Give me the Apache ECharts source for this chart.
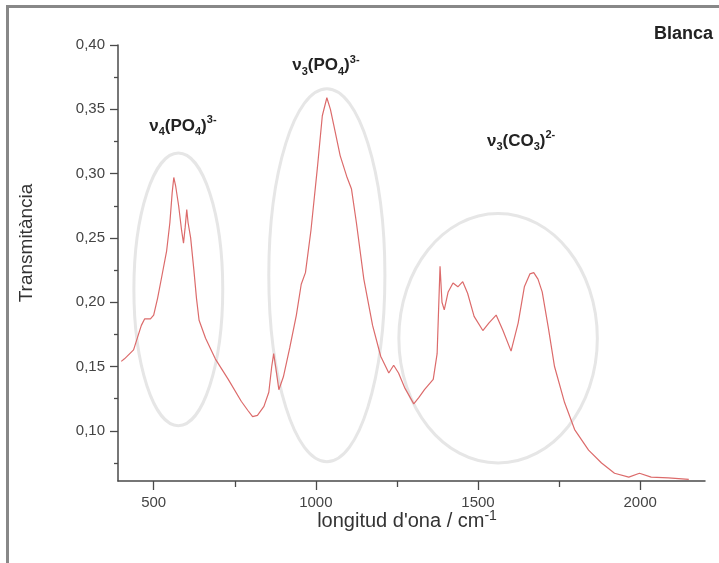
<!DOCTYPE html>
<html>
<head>
<meta charset="utf-8">
<script src="https://cdn.jsdelivr.net/npm/echarts@6/dist/echarts.min.js"></script>
<style>
  html, body { margin: 0; padding: 0; background: #fff; }
  #chart { width: 719px; height: 563px; }
</style>
</head>
<body>
<div id="chart"></div>
<script>
// FTIR spectrum of the "Blanca" sample: wavenumber (cm-1) vs transmittance
const wavenumber = [
  400, 410, 438, 462, 472, 490, 500, 512, 525, 540, 550, 557, 562, 568, 577, 586, 592, 597, 602, 606,
  614, 624, 632, 640, 660, 690, 730, 770, 790, 805, 820, 840, 855, 864, 870, 876, 886, 900, 920, 940,
  955, 968, 985, 1005, 1020, 1034, 1045, 1055, 1075, 1095, 1110, 1125, 1148, 1175, 1200, 1225, 1240, 1255, 1275, 1302,
  1318, 1335, 1362, 1374, 1383, 1389, 1396, 1408, 1423, 1438, 1453, 1468, 1488, 1515, 1534, 1556, 1577, 1602, 1624, 1643,
  1660, 1672, 1685, 1698, 1717, 1736, 1767, 1798, 1841, 1881, 1921, 1965, 1998, 2034, 2087, 2150
];
const transmittance = [
  0.154, 0.156, 0.163, 0.182, 0.187, 0.187, 0.190, 0.203, 0.220, 0.240, 0.262, 0.285, 0.297, 0.290, 0.275, 0.256, 0.246, 0.258, 0.272, 0.262,
  0.250, 0.225, 0.203, 0.186, 0.172, 0.156, 0.140, 0.123, 0.116, 0.111, 0.112, 0.119, 0.130, 0.150, 0.160, 0.150, 0.132, 0.142, 0.165, 0.190,
  0.214, 0.223, 0.256, 0.305, 0.345, 0.359, 0.350, 0.338, 0.314, 0.298, 0.288, 0.262, 0.218, 0.182, 0.158, 0.145, 0.151, 0.145, 0.133, 0.121,
  0.126, 0.132, 0.140, 0.160, 0.228, 0.200, 0.194, 0.208, 0.215, 0.212, 0.216, 0.207, 0.189, 0.178, 0.184, 0.190, 0.178, 0.162, 0.184, 0.212,
  0.222, 0.223, 0.218, 0.208, 0.180, 0.150, 0.122, 0.101, 0.085, 0.075, 0.067, 0.064, 0.067, 0.064, 0.0635, 0.0622
];

const xMajorTicks = [500, 1000, 1500, 2000];
const xMinorTicks = [750, 1250, 1750];
const yMajorTicks = [0.10, 0.15, 0.20, 0.25, 0.30, 0.35, 0.40];
const yMinorTicks = [0.075, 0.125, 0.175, 0.225, 0.275, 0.325, 0.375];

// Vibrational band names (rich-text markup: sub = subscript, sup = superscript)
const bandNames = [
  '{b|ν}{sub|4}{b|(PO}{sub|4}{b|)}{sup|3-}',
  '{b|ν}{sub|3}{b|(PO}{sub|4}{b|)}{sup|3-}',
  '{b|ν}{sub|3}{b|(CO}{sub|3}{b|)}{sup|2-}'
];
const sampleName = 'Blanca';
const xTitle = "{t|longitud d'ona / cm}{s|-1}";
const yTitle = 'Transmitància';

const FONT = '"Liberation Sans", Arial, sans-serif';
const X_MIN = 390, X_MAX = 2200, Y_MIN = 0.061, Y_MAX = 0.40;

const chart = echarts.init(document.getElementById('chart'), null, { renderer: 'canvas' });

const axisColor = '#4a4a4a';
function xAxisCfg(ticks, len, showLine, showLabel) {
  return {
    type: 'value', position: 'bottom', min: X_MIN, max: X_MAX,
    splitLine: { show: false },
    axisLine: { show: showLine, onZero: false, lineStyle: { color: axisColor, width: 1.5 } },
    axisTick: { show: true, customValues: ticks, length: len, lineStyle: { color: axisColor, width: 1.3 } },
    axisLabel: {
      show: showLabel, customValues: ticks, margin: 14,
      color: '#444', fontSize: 15, fontFamily: FONT,
      formatter: v => String(v)
    }
  };
}
function yAxisCfg(ticks, len, showLine, showLabel) {
  return {
    type: 'value', position: 'left', min: Y_MIN, max: Y_MAX,
    splitLine: { show: false },
    axisLine: { show: showLine, onZero: false, lineStyle: { color: axisColor, width: 1.5 } },
    axisTick: { show: true, customValues: ticks, length: len, lineStyle: { color: axisColor, width: 1.3 } },
    axisLabel: {
      show: showLabel, customValues: ticks, margin: 13,
      color: '#444', fontSize: 15, fontFamily: FONT,
      formatter: v => v.toFixed(2).replace('.', ',')
    }
  };
}

chart.setOption({
  animation: false,
  backgroundColor: '#ffffff',
  grid: { left: 118, right: 14, top: 45, bottom: 82, containLabel: false, outerBoundsMode: 'none' },
  xAxis: [xAxisCfg(xMajorTicks, 9, true, true), xAxisCfg(xMinorTicks, 6, false, false)],
  yAxis: [yAxisCfg(yMajorTicks, 8, true, true), yAxisCfg(yMinorTicks, 4, false, false)],
  series: [{
    type: 'line',
    xAxisIndex: 0, yAxisIndex: 0,
    data: wavenumber.map((w, i) => [w, transmittance[i]]),
    showSymbol: false, symbol: 'none', smooth: false,
    lineStyle: { color: '#dc6b6b', width: 1.2 },
    z: 3
  }]
});

// Annotation ellipses and band labels, anchored in data space
const toPx = (v, t) => chart.convertToPixel({ xAxisIndex: 0, yAxisIndex: 0 }, [v, t]);
const bands = [
  { cv: 576, ct: 0.210, rv: 137, rt: 0.106, lv: 590, lt: 0.337 },
  { cv: 1034, ct: 0.221, rv: 179, rt: 0.145, lv: 1031, lt: 0.384 },
  { cv: 1562, ct: 0.172, rv: 306, rt: 0.097, lv: 1633, lt: 0.325 }
];

const graphics = [];
bands.forEach((b, i) => {
  const c = toPx(b.cv, b.ct);
  const e = toPx(b.cv + b.rv, b.ct + b.rt);
  graphics.push({
    type: 'ellipse', z: 1, silent: true,
    shape: { cx: c[0], cy: c[1], rx: Math.abs(e[0] - c[0]), ry: Math.abs(c[1] - e[1]) },
    style: { fill: null, stroke: '#e6e6e6', lineWidth: 3 }
  });
  const l = toPx(b.lv, b.lt);
  graphics.push({
    type: 'text', z: 10, x: l[0], y: l[1], silent: true,
    style: {
      text: bandNames[i], align: 'center', verticalAlign: 'middle',
      rich: {
        b: { fontSize: 17, fontWeight: 'bold', fontFamily: FONT, fill: '#222', lineHeight: 23, verticalAlign: 'middle' },
        sub: { fontSize: 11, fontWeight: 'bold', fontFamily: FONT, fill: '#222', lineHeight: 11, verticalAlign: 'bottom' },
        sup: { fontSize: 11, fontWeight: 'bold', fontFamily: FONT, fill: '#222', lineHeight: 11, verticalAlign: 'top' }
      }
    }
  });
});

// Sample name, axis titles and the outer frame
graphics.push(
  {
    type: 'text', x: 713, y: 34, silent: true,
    style: { text: sampleName, align: 'right', verticalAlign: 'middle', font: 'bold 18px ' + FONT, fill: '#222' }
  },
  {
    type: 'text', x: 27, y: 243, rotation: Math.PI / 2, silent: true,
    style: { text: yTitle, align: 'center', verticalAlign: 'middle', font: '19px ' + FONT, fill: '#333' }
  },
  {
    type: 'text', x: 407, y: 521, silent: true,
    style: {
      text: xTitle, align: 'center', verticalAlign: 'middle',
      rich: {
        t: { fontSize: 20, fontFamily: FONT, fill: '#333', lineHeight: 24, verticalAlign: 'middle' },
        s: { fontSize: 14, fontFamily: FONT, fill: '#333', lineHeight: 14, verticalAlign: 'top' }
      }
    }
  },
  {
    type: 'polyline', silent: true,
    shape: { points: [[7.5, 563], [7.5, 6.5], [719, 6.5]] },
    style: { fill: null, stroke: '#888', lineWidth: 3 }
  }
);

chart.setOption({ graphic: graphics });
</script>
</body>
</html>
